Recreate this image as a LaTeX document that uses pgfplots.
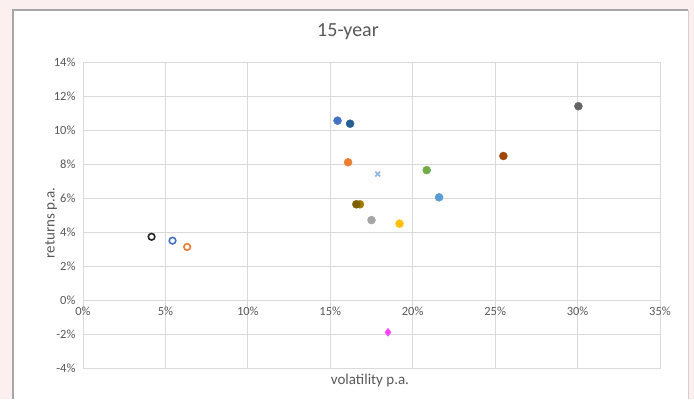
\documentclass[border=0pt]{standalone}
\usepackage{pgfplots}
\pgfplotsset{compat=1.18}
\usepackage{fontspec}
\setmainfont{Carlito}
\definecolor{bgpink}{HTML}{FBF0EF}
\definecolor{framegray}{HTML}{A6A6A6}
\definecolor{gridgray}{HTML}{D9D9D9}
\definecolor{textgray}{HTML}{595959}
\definecolor{cblack}{HTML}{262626}
\definecolor{cblue}{HTML}{4472C4}
\definecolor{corange}{HTML}{ED7D31}
\definecolor{cdarkblue}{HTML}{255E91}
\definecolor{cltblue}{HTML}{5B9BD5}
\definecolor{cxblue}{HTML}{8FB4E3}
\definecolor{cgreen}{HTML}{70AD47}
\definecolor{cgray}{HTML}{A5A5A5}
\definecolor{cyellow}{HTML}{FFC000}
\definecolor{cbrown}{HTML}{9E480E}
\definecolor{cdkgray}{HTML}{636363}
\definecolor{colive}{HTML}{7F6000}
\definecolor{cgold}{HTML}{A07C00}
\definecolor{cmagenta}{HTML}{FF40FF}
\begin{document}
\begin{tikzpicture}[x=1pt,y=1pt]
% page background and chart area
\fill[bgpink] (0,0) rectangle (694,399);
\fill[white] (13,0) rectangle (688,389);
\draw[framegray, line width=1.5pt] (13,0) -- (13,389) -- (688,389);
\draw[bgpink!70!gray, line width=0.6pt] (688,0) -- (688,389);
% titles
\node[text=textgray, font=\fontsize{20}{24}\selectfont] at (348,367) {15-year};
\node[text=textgray, font=\fontsize{15}{18}\selectfont, rotate=90] at (51,176) {returns p.a.};
\node[text=textgray, font=\fontsize{15}{18}\selectfont] at (370,18) {volatility p.a.};
\begin{axis}[
  at={(83pt,31pt)}, anchor=south west,
  scale only axis, width=577pt, height=306pt,
  xmin=0, xmax=35, ymin=-4, ymax=14,
  axis line style={draw=gridgray, line width=0.8pt, -},
  xtick={0,5,...,35}, ytick={-4,-2,...,14},
  xticklabels={0\%,5\%,10\%,15\%,20\%,25\%,30\%,35\%},
  yticklabels={-4\%,-2\%,0\%,2\%,4\%,6\%,8\%,10\%,12\%,14\%},
  major tick length=0pt,
  grid=major,
  major grid style={draw=gridgray, line width=0.8pt},
  tick label style={text=textgray, font=\fontsize{12.5}{14}\selectfont},
  % horizontal axis crosses at 0, so its labels sit under the 0 line
  xticklabel style={yshift=65pt},
  yticklabel style={xshift=-4pt},
  clip=false,
]
% open markers
\addplot[only marks, mark=o, mark size=3.3pt, mark options={draw=cblack, fill=white, line width=1.6pt}] coordinates {(4.16,3.72)};
\addplot[only marks, mark=o, mark size=3.3pt, mark options={draw=cblue, fill=white, line width=1.6pt}] coordinates {(5.43,3.49)};
\addplot[only marks, mark=o, mark size=3.3pt, mark options={draw=corange, fill=white, line width=1.6pt}] coordinates {(6.32,3.12)};
% filled markers
\addplot[only marks, mark=*, mark size=4pt, mark options={draw=cblue, fill=cblue}] coordinates {(15.44,10.55)};
\addplot[only marks, mark=*, mark size=4pt, mark options={draw=cdarkblue, fill=cdarkblue}] coordinates {(16.2,10.37)};
\addplot[only marks, mark=*, mark size=4pt, mark options={draw=corange, fill=corange}] coordinates {(16.08,8.1)};
\addplot[only marks, mark=x, mark size=3.5pt, mark options={draw=cxblue, line width=1.5pt}] coordinates {(17.88,7.41)};
\addplot[only marks, mark=*, mark size=4pt, mark options={draw=cgreen, fill=cgreen}] coordinates {(20.85,7.64)};
\addplot[only marks, mark=*, mark size=4pt, mark options={draw=cltblue, fill=cltblue}] coordinates {(21.6,6.04)};
\addplot[only marks, mark=*, mark size=4pt, mark options={draw=cgold, fill=cgold}] coordinates {(16.8,5.63)};
\addplot[only marks, mark=*, mark size=4pt, mark options={draw=colive, fill=colive}] coordinates {(16.58,5.63)};
\addplot[only marks, mark=*, mark size=4pt, mark options={draw=cgray, fill=cgray}] coordinates {(17.5,4.7)};
\addplot[only marks, mark=*, mark size=4pt, mark options={draw=cyellow, fill=cyellow}] coordinates {(19.2,4.49)};
\addplot[only marks, mark=diamond*, mark size=4pt, mark options={draw=cmagenta, fill=cmagenta}] coordinates {(18.5,-1.9)};
\addplot[only marks, mark=*, mark size=4pt, mark options={draw=cbrown, fill=cbrown}] coordinates {(25.5,8.47)};
\addplot[only marks, mark=*, mark size=4pt, mark options={draw=cdkgray, fill=cdkgray}] coordinates {(30.05,11.4)};
\end{axis}
\end{tikzpicture}
\end{document}
